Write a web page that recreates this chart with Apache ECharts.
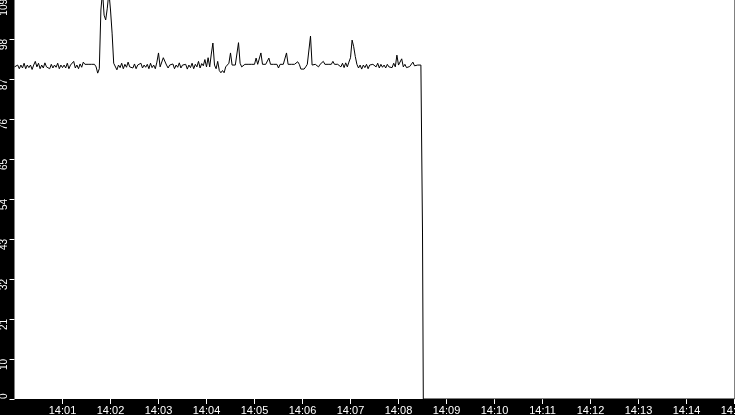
<!DOCTYPE html>
<html>
<head>
<meta charset="utf-8">
<script src="https://cdn.jsdelivr.net/npm/echarts@6/dist/echarts.min.js"></script>
<style>
  html, body { margin: 0; padding: 0; background: #000; }
  #chart { width: 735px; height: 415px; }
</style>
</head>
<body>
<div id="chart"></div>
<script>
// Sampling: one reading every 2 seconds, starting 14:00:00
const SAMPLE_SECONDS = 2;

// Readings, grouped roughly per minute
const values1400 = [90.5,90.5,91,90,91,90.2,91.5,90,91,90.3,91,89.8,91,92,90.5,91.5,90,91,90.2,91.6,90.5,91,90,91.2,90.2,91,90.4,91.5,90,91,90.3];
const values1401 = [91,90.2,91.5,90,91,90.5,92,90.2,91,90,91.3,90.4,91.8,91.2,91.2,91.2,91.2,91.2,91.2,91.2,90.5,88.8,90,106,111,104.6,103.3,106.5,111,106];
const values1402 = [99.7,91.5,91,89.7,91,90.3,91.5,90,91.2,90.4,91.8,90.5,91,90.2,91.3,90,91,90.6,91.5,90.2,91,90.4,91.2,90,91.5,90.3,91,90,91.8,94.3];
const values1403 = [90.5,90,93,92.8,91,90.2,91,90.5,91.3,90,91,90.4,91.6,90.2,91,90.5,91.2,89.9,91,90.3,91.5,90,91.2,90.5,92,90.2,91.4,90.8,92.5,90.5];
const values1404 = [93,90.5,94,97,91,90,92,89.5,88.9,89.5,88.9,90.5,90,91.5,94.3,91,90.5,91,90.8,97.1,91.5,90.5,90,91.2,91.2,91.2,91.2,91.2,91.2,91.2];
const values1405 = [92.9,91.2,91.2,94.3,91.2,91.2,91.2,91.2,92.9,91.2,91.2,91.2,91.2,91.2,90.2,91.2,91.2,91.2,91.2,94.3,91.2,91.2,91.2,91.2,91.2,91.2,91.9,91.2,89.9,89.9];
const values1406 = [89.9,90.5,91.2,91.2,98.9,91,91.2,91.2,91.2,90.5,91.2,91.5,92,91.2,91.2,91.2,91.2,91.2,92,91.2,91.2,91.2,91.2,90.5,91.5,90.3,91.6,90.5,91.8,93];
const values1407 = [97.8,96,93.3,91.2,90.2,91,89.9,91,90.3,91.2,90,91,90.5,91.2,91.2,90.5,91.5,90.2,91.2,90.4,91,90.2,91.2,90.5,91,90.3,91.5,90.5,93.7,91];
const values1408 = [90.5,92.7,90.5,91.2,90.3,90.1,90.6,90.1,91.8,90.8,91,91,91,91];

// Final readings (seconds after 14:00:00) when the signal drops away
const tailSeconds = [510, 511, 900];
const tailValues = [45.5, 0, 0];

// Axis ticks
const yTickValues = [0, 10, 21, 32, 43, 54, 65, 76, 87, 98, 109];
const xTickLabels = ['14:00','14:01','14:02','14:03','14:04','14:05','14:06','14:07','14:08','14:09','14:10','14:11','14:12','14:13','14:14','14:15'];

const regular = [].concat(values1400, values1401, values1402, values1403, values1404, values1405, values1406, values1407, values1408);
const seriesData = regular.map((v, i) => [i * SAMPLE_SECONDS, v]);
tailSeconds.forEach((s, i) => seriesData.push([s, tailValues[i]]));

const chart = echarts.init(document.getElementById('chart'), null, { renderer: 'canvas' });
chart.setOption({
  animation: false,
  backgroundColor: '#000',
  grid: {
    left: 14.5, right: 0.5, top: -1, bottom: 16,
    containLabel: false,
    outerBoundsMode: 'none',
    show: true, backgroundColor: '#fff', borderWidth: 0
  },
  xAxis: {
    type: 'value',
    min: 0, max: 900, interval: 60,
    axisLine: { show: false },
    splitLine: { show: false },
    axisTick: { show: true, length: 5, lineStyle: { color: '#fff', width: 1 } },
    axisLabel: {
      color: '#fff', fontFamily: 'Liberation Sans', fontSize: 11, margin: 6,
      showMinLabel: false, showMaxLabel: true,
      formatter: v => xTickLabels[Math.round(v / 60)] || ''
    }
  },
  yAxis: {
    type: 'value',
    min: 0, max: 109, interval: 10.9,
    axisLine: { show: false },
    splitLine: { show: false },
    axisTick: { show: true, length: 5, lineStyle: { color: '#fff', width: 1 } },
    axisLabel: {
      color: '#fff', fontFamily: 'Liberation Sans', fontSize: 10, margin: 5,
      rotate: 90, align: 'right', alignMinLabel: 'left',
      showMinLabel: true, showMaxLabel: true,
      formatter: v => String(yTickValues[Math.round(v / 10.9)])
    }
  },
  series: [{
    type: 'line',
    data: seriesData,
    showSymbol: false,
    symbol: 'none',
    lineStyle: { color: '#000', width: 1 },
    clip: true
  }]
});
</script>
</body>
</html>
